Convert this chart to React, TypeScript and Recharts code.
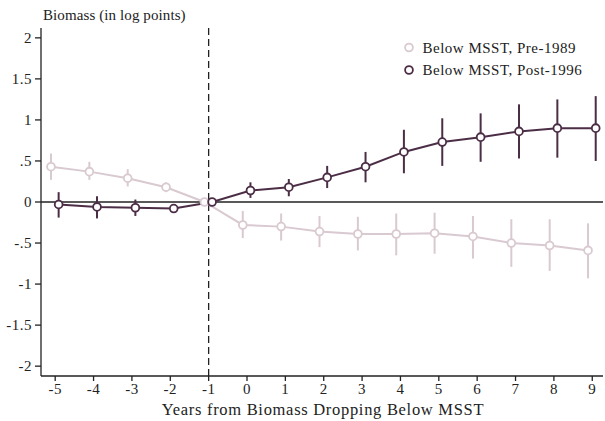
import React from 'react';
import {
  ComposedChart,
  Line,
  XAxis,
  YAxis,
  ReferenceLine,
  ErrorBar,
  Customized,
} from 'recharts';

// Event-time years relative to biomass dropping below MSST
const years = [-5, -4, -3, -2, -1, 0, 1, 2, 3, 4, 5, 6, 7, 8, 9];

// Pre-1989 cohort: point estimates and 95% CI bounds
const preValues = [0.43, 0.37, 0.29, 0.18, 0, -0.28, -0.3, -0.36, -0.39, -0.39, -0.38, -0.42, -0.5, -0.53, -0.59];
const preLow = [0.27, 0.27, 0.19, 0.12, 0, -0.44, -0.47, -0.55, -0.59, -0.65, -0.63, -0.69, -0.79, -0.84, -0.93];
const preHigh = [0.59, 0.49, 0.4, 0.24, 0, -0.11, -0.14, -0.17, -0.18, -0.14, -0.13, -0.17, -0.21, -0.21, -0.26];

// Post-1996 cohort: point estimates and 95% CI bounds
const postValues = [-0.03, -0.06, -0.07, -0.08, 0, 0.14, 0.18, 0.3, 0.43, 0.61, 0.73, 0.79, 0.86, 0.9, 0.9];
const postLow = [-0.19, -0.2, -0.17, -0.13, 0, 0.05, 0.07, 0.17, 0.24, 0.35, 0.44, 0.49, 0.53, 0.54, 0.5];
const postHigh = [0.12, 0.07, 0.03, -0.03, 0, 0.24, 0.28, 0.44, 0.61, 0.88, 1.02, 1.08, 1.19, 1.25, 1.29];

const yTicks = [-2, -1.5, -1, -0.5, 0, 0.5, 1, 1.5, 2];

const seriesNames = ['Below MSST, Pre-1989', 'Below MSST, Post-1996'];
const xTitle = 'Years from Biomass Dropping Below MSST';
const yTitle = 'Biomass (in log points)';

const LIGHT = '#d9c9d1';
const DARK = '#4b2e46';
const INK = '#222';
const FONT = '"Liberation Serif", "DejaVu Serif", serif';

const buildSeries = (values: number[], low: number[], high: number[], shift: number) =>
  years.map((yr, i) => ({
    x: yr + shift,
    y: values[i],
    err: [values[i] - low[i], high[i] - values[i]],
  }));

// the two cohorts are nudged apart horizontally so their intervals don't overlap
const preData = buildSeries(preValues, preLow, preHigh, -0.11);
const postData = buildSeries(postValues, postLow, postHigh, 0.09);

const fmtY = (v: number) => {
  if (v === 0) return '0';
  const s = String(Math.abs(v)).replace(/^0\./, '.');
  return (v < 0 ? '-' : '') + s;
};

const YTick = (props: any) => {
  const { x, y, payload } = props;
  return (
    <text x={x - 1} y={y} dy={5} textAnchor="end" fontFamily={FONT} fontSize={15} letterSpacing={0.5} fill={INK}>
      {fmtY(payload.value)}
    </text>
  );
};

const XTick = (props: any) => {
  const { x, y, payload } = props;
  return (
    <text x={x} y={y} dy={11} textAnchor="middle" fontFamily={FONT} fontSize={15} letterSpacing={0.5} fill={INK}>
      {String(payload.value)}
    </text>
  );
};

const Overlay = () => (
  <g fontFamily={FONT} fill={INK}>
    <text x={43} y={20} fontSize={15} letterSpacing={0.1}>{yTitle}</text>
    <circle cx={409} cy={47.5} r={3.9} fill="#fff" stroke={LIGHT} strokeWidth={1.8} />
    <text x={422.5} y={52.5} fontSize={15} letterSpacing={0.5}>{seriesNames[0]}</text>
    <circle cx={409} cy={70} r={3.9} fill="#fff" stroke={DARK} strokeWidth={1.8} />
    <text x={422.5} y={75} fontSize={15} letterSpacing={0.5}>{seriesNames[1]}</text>
    <text x={323} y={414.5} fontSize={16.5} letterSpacing={0.7} textAnchor="middle">{xTitle}</text>
  </g>
);

const dotStyle = (color: string) => ({ r: 3.9, fill: '#fff', stroke: color, strokeWidth: 1.8 });

export default function App() {
  return (
    <div style={{ position: 'absolute', left: 0, top: 0, width: 605, height: 421, background: '#fff' }}>
      <ComposedChart width={605} height={421} margin={{ top: 28, right: 2, bottom: 0, left: 0 }}>
        <XAxis
          type="number"
          dataKey="x"
          domain={[-5.37, 9.28]}
          ticks={years}
          allowDataOverflow
          interval={0}
          height={45}
          axisLine={{ stroke: INK, strokeWidth: 1.3 }}
          tickLine={{ stroke: INK, strokeWidth: 1.3 }}
          tickSize={5}
          tick={<XTick />}
        />
        <YAxis
          type="number"
          domain={[-2.12, 2.12]}
          ticks={yTicks}
          allowDataOverflow
          interval={0}
          width={41}
          axisLine={{ stroke: INK, strokeWidth: 1.3 }}
          tickLine={{ stroke: INK, strokeWidth: 1.3 }}
          tickSize={6}
          tick={<YTick />}
        />
        <ReferenceLine y={0} stroke={INK} strokeWidth={1.5} />
        <ReferenceLine x={-1} stroke={INK} strokeWidth={1.3} strokeDasharray="7 4" />
        <Line
          data={preData}
          dataKey="y"
          stroke={LIGHT}
          strokeWidth={2}
          dot={dotStyle(LIGHT)}
          activeDot={false}
          isAnimationActive={false}
        >
          <ErrorBar dataKey="err" direction="y" width={0} stroke={LIGHT} strokeWidth={2} isAnimationActive={false} />
        </Line>
        <Line
          data={postData}
          dataKey="y"
          stroke={DARK}
          strokeWidth={2}
          dot={dotStyle(DARK)}
          activeDot={false}
          isAnimationActive={false}
        >
          <ErrorBar dataKey="err" direction="y" width={0} stroke={DARK} strokeWidth={2} isAnimationActive={false} />
        </Line>
        <Customized component={Overlay} />
      </ComposedChart>
    </div>
  );
}
